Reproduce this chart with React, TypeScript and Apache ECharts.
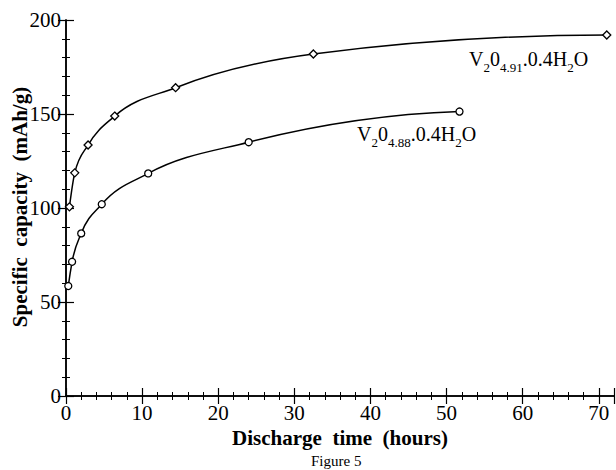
import React, { useEffect, useRef } from 'react';
import * as echarts from 'echarts';

// V2O4.91.0.4H2O (diamonds)
const timeA = [0.45, 1.15, 2.9, 6.4, 14.4, 32.5, 71.05];
const capA = [100.6, 118.7, 133.5, 148.9, 164.0, 181.9, 192.0];
// V2O4.88.0.4H2O (circles)
const timeB = [0.3, 0.8, 2.0, 4.7, 10.8, 24.0, 51.7];
const capB = [58.5, 71.4, 86.5, 102.0, 118.4, 135.0, 151.3];

const xLabels = ['0', '10', '20', '30', '40', '50', '60', '70'];
const yLabels = ['0', '50', '100', '150', '200'];

const FONT = 'Liberation Serif';

// Steffen monotone cubic through pixel points -> SVG path data
function smoothPath(pts: number[][]): string {
  const n = pts.length;
  const h: number[] = [];
  const s: number[] = [];
  for (let i = 0; i < n - 1; i++) {
    h.push(pts[i + 1][0] - pts[i][0]);
    s.push((pts[i + 1][1] - pts[i][1]) / h[i]);
  }
  const m: number[] = new Array(n).fill(0);
  for (let i = 1; i < n - 1; i++) {
    const p = (s[i - 1] * h[i] + s[i] * h[i - 1]) / (h[i - 1] + h[i]);
    if (Math.sign(s[i - 1]) !== Math.sign(s[i])) m[i] = 0;
    else m[i] = Math.sign(p) * Math.min(2 * Math.abs(s[i - 1]), 2 * Math.abs(s[i]), Math.abs(p));
  }
  const end = (s0: number, s1: number, h0: number, h1: number) => {
    let p = s0 * (1 + h0 / (h0 + h1)) - s1 * h0 / (h0 + h1);
    if (Math.sign(p) !== Math.sign(s0)) p = 0;
    else if (Math.abs(p) > 2 * Math.abs(s0)) p = 2 * s0;
    return p;
  };
  m[0] = end(s[0], s[1], h[0], h[1]);
  m[n - 1] = end(s[n - 2], s[n - 3], h[n - 2], h[n - 3]);
  let d = `M${pts[0][0]},${pts[0][1]}`;
  for (let i = 0; i < n - 1; i++) {
    const [x0, y0] = pts[i];
    const [x1, y1] = pts[i + 1];
    const dx = (x1 - x0) / 3;
    d += ` C${x0 + dx},${y0 + m[i] * dx} ${x1 - dx},${y1 - m[i + 1] * dx} ${x1},${y1}`;
  }
  return d;
}

function curveSeries(xs: number[], ys: number[]) {
  return {
    type: 'custom',
    coordinateSystem: 'cartesian2d',
    data: [[xs[0], ys[0]]],
    silent: true,
    z: 1,
    renderItem: (_params: any, api: any) => {
      const pts = xs.map((x, i) => api.coord([x, ys[i]]));
      return {
        type: 'path',
        shape: { pathData: smoothPath(pts) },
        style: { fill: 'none', stroke: '#000', lineWidth: 1.5 },
      };
    },
  };
}

export default function App() {
  const ref = useRef<HTMLDivElement>(null);
  useEffect(() => {
    document.body.style.margin = '0';
    const chart = echarts.init(ref.current!, null, { renderer: 'svg' });
    const axisLine = { show: true, lineStyle: { color: '#000', width: 1.5 } };
    const mkX = (pos: 'bottom' | 'top', labels: boolean) => ({
      type: 'value',
      position: pos,
      min: 0,
      max: 72,
      interval: 10,
      axisLine,
      axisTick: { show: true, inside: true, length: 8, lineStyle: { color: '#000', width: 1.2 } },
      minorTick: { show: true, splitNumber: 5, length: 4, lineStyle: { color: '#000', width: 1 } },
      splitLine: { show: false },
      axisLabel: {
        show: labels,
        margin: 6,
        color: '#000',
        fontFamily: FONT,
        fontSize: 21,
        formatter: (v: number) => (xLabels.includes(String(v)) ? String(v) : ''),
        showMaxLabel: false,
      },
      name: labels ? 'Discharge  time  (hours)' : '',
      nameLocation: 'middle',
      nameGap: 31,
      nameMoveOverlap: false,
      nameTextStyle: { color: '#000', fontFamily: FONT, fontSize: 21, fontWeight: 'bold' },
    });
    const mkY = (pos: 'left' | 'right', labels: boolean) => ({
      type: 'value',
      position: pos,
      min: 0,
      max: 200,
      interval: 50,
      axisLine,
      axisTick: { show: true, inside: true, length: 8, lineStyle: { color: '#000', width: 1.2 } },
      minorTick: { show: true, splitNumber: 5, length: 4, lineStyle: { color: '#000', width: 1 } },
      splitLine: { show: false },
      axisLabel: {
        show: labels,
        margin: 5,
        color: '#000',
        fontFamily: FONT,
        fontSize: 21,
        formatter: (v: number) => (yLabels.includes(String(v)) ? String(v) : ''),
      },
    });
    const rich = {
      n: { fontFamily: FONT, fontSize: 20, color: '#000', lineHeight: 25, verticalAlign: 'top' },
      s: { fontFamily: FONT, fontSize: 13, color: '#000', lineHeight: 25, verticalAlign: 'bottom', padding: [8, 0, 0, 0] },
    };
    chart.setOption({
      animation: false,
      backgroundColor: '#fff',
      grid: { left: 66, top: 20, right: 2, bottom: 74, containLabel: false, outerBoundsMode: 'none' },
      title: {
        text: 'Figure 5',
        left: 311,
        top: 453,
        padding: 0,
        textStyle: { color: '#000', fontFamily: FONT, fontSize: 15, fontWeight: 'normal' },
      },
      xAxis: [mkX('bottom', true), mkX('top', false)],
      yAxis: [mkY('left', true), mkY('right', false)],
      graphic: [
        {
          type: 'text',
          x: 20,
          y: 207,
          rotation: Math.PI / 2,
          style: {
            text: 'Specific  capacity  (mAh/g)',
            align: 'center',
            verticalAlign: 'middle',
            fontFamily: FONT,
            fontSize: 21,
            fontWeight: 'bold',
            fill: '#000',
          },
        },
        {
          type: 'text',
          left: 469,
          top: 49,
          style: { text: '{n|V}{s|2}{n|0}{s|4.91}{n|.0.4H}{s|2}{n|O}', rich },
        },
        {
          type: 'text',
          left: 357,
          top: 124,
          style: { text: '{n|V}{s|2}{n|0}{s|4.88}{n|.0.4H}{s|2}{n|O}', rich },
        },
      ],
      series: [
        curveSeries(timeA, capA),
        curveSeries(timeB, capB),
        {
          type: 'scatter',
          data: timeA.map((t, i) => [t, capA[i]]),
          symbol: 'diamond',
          symbolSize: 8,
          z: 3,
          itemStyle: { color: '#fff', borderColor: '#000', borderWidth: 1.3, opacity: 1 },
        },
        {
          type: 'scatter',
          data: timeB.map((t, i) => [t, capB[i]]),
          symbol: 'circle',
          symbolSize: 7,
          z: 3,
          itemStyle: { color: '#fff', borderColor: '#000', borderWidth: 1.3, opacity: 1 },
        },
      ],
    });
    return () => chart.dispose();
  }, []);
  return <div ref={ref} style={{ width: 616, height: 470 }} />;
}
